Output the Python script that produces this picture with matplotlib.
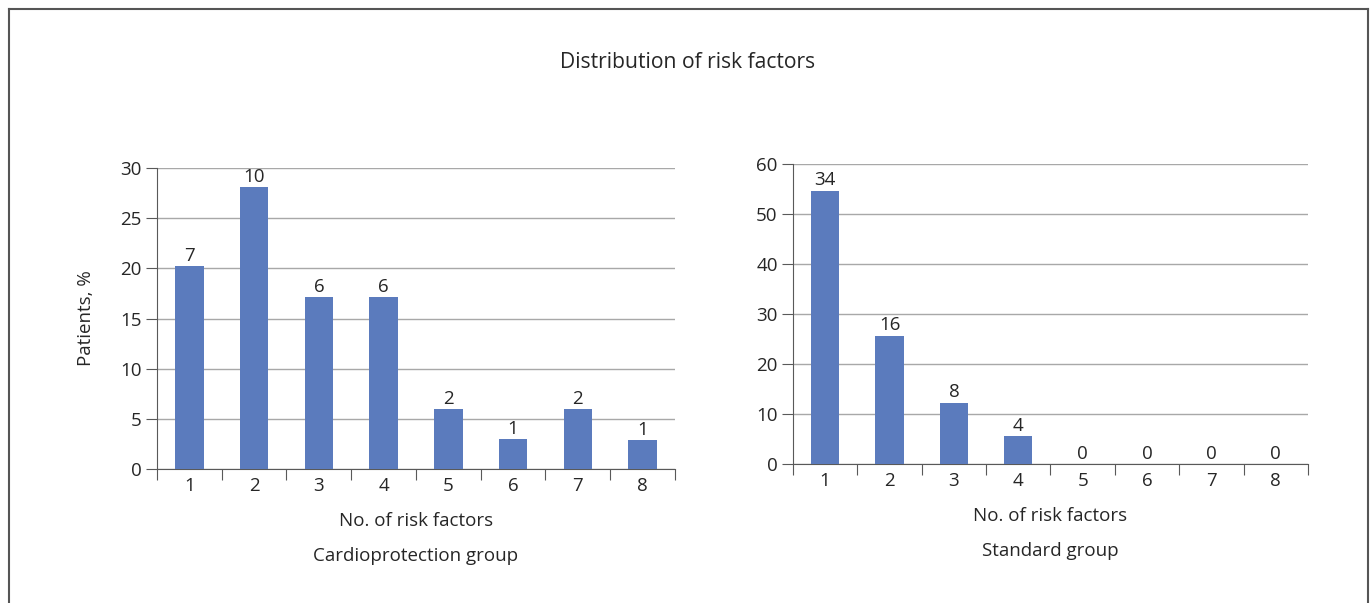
import numpy as np
import matplotlib
matplotlib.use("Agg")
import matplotlib.pyplot as plt
from matplotlib.lines import Line2D

plt.rcParams['font.family'] = ['Open Sans', 'DejaVu Sans']

# Data
categories = [1, 2, 3, 4, 5, 6, 7, 8]
cardio_pct = [20.2, 28.1, 17.1, 17.1, 6.0, 3.0, 6.0, 2.9]
cardio_n = [7, 10, 6, 6, 2, 1, 2, 1]
standard_pct = [54.7, 25.7, 12.3, 5.6, 0, 0, 0, 0]
standard_n = [34, 16, 8, 4, 0, 0, 0, 0]

bar_color = '#5b7bbd'
spine_color = '#595959'
grid_color = '#a8a8a8'
text_color = '#262626'
fs = 13.5


def draw_panel(ax, pct, counts, ymax, step, group_name, ylabel=None):
    x = np.arange(len(categories)) + 1
    ax.bar(x, pct, width=0.44, color=bar_color, zorder=3)
    for xi, p, n in zip(x, pct, counts):
        ax.text(xi, p + ymax * 0.004, str(n), ha='center', va='bottom',
                fontsize=fs, color=text_color)
    ax.set_xlim(0.5, len(categories) + 0.5)
    ax.set_ylim(0, ymax)
    ax.set_yticks(np.arange(0, ymax + 1, step))
    ax.yaxis.grid(True, color=grid_color, linewidth=1, zorder=0)
    for s in ['top', 'right']:
        ax.spines[s].set_visible(False)
    for s in ['left', 'bottom']:
        ax.spines[s].set_color(spine_color)
    ax.tick_params(axis='y', length=8, color=spine_color, labelsize=fs,
                   labelcolor=text_color, pad=3)
    # category boundaries get the tick marks, labels sit between them
    ax.set_xticks(np.arange(0.5, len(categories) + 1, 1))
    ax.set_xticklabels([])
    ax.set_xticks(x, minor=True)
    ax.set_xticklabels([str(c) for c in categories], minor=True)
    ax.tick_params(axis='x', which='major', length=8, color=spine_color)
    ax.tick_params(axis='x', which='minor', length=0, labelsize=fs,
                   labelcolor=text_color, pad=6)
    ax.set_xlabel('No. of risk factors\n\n' + group_name, fontsize=fs,
                  color=text_color, labelpad=12, linespacing=0.95)
    if ylabel:
        ax.set_ylabel(ylabel, fontsize=fs, color=text_color, labelpad=18)


fig = plt.figure(figsize=(13.7, 6.03), dpi=100)
ax1 = fig.add_axes([0.1146, 0.2222, 0.378, 0.4992])
ax2 = fig.add_axes([0.5788, 0.2305, 0.3759, 0.4975])

draw_panel(ax1, cardio_pct, cardio_n, 30, 5, 'Cardioprotection group', 'Patients, %')
draw_panel(ax2, standard_pct, standard_n, 60, 10, 'Standard group')

fig.text(0.502, 0.897, 'Distribution of risk factors', ha='center', va='center',
         fontsize=15.2, color=text_color)

# open frame around the figure (no bottom edge)
fx0, fx1, fy1 = 8.5 / 1370, 1367.5 / 1370, 1 - 8.5 / 603
for xs, ys in [([fx0, fx0], [0, fy1]), ([fx0, fx1], [fy1, fy1]), ([fx1, fx1], [fy1, 0])]:
    fig.add_artist(Line2D(xs, ys, color='#555555', linewidth=1.5,
                          transform=fig.transFigure))

fig.savefig('out.png', dpi=100)
